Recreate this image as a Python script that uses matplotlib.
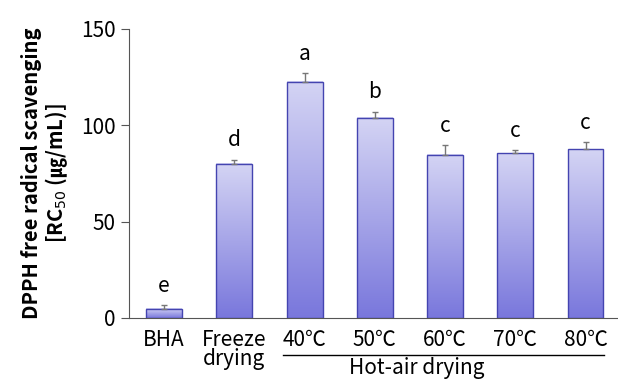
import matplotlib.pyplot as plt
import numpy as np
from matplotlib.colors import LinearSegmentedColormap
import matplotlib.transforms as mtransforms

plt.rcParams['font.family'] = ['Noto Sans CJK KR', 'DejaVu Sans']

categories = ['BHA', 'Freeze\ndrying', '40℃', '50℃', '60℃', '70℃', '80℃']
values = [4.7, 80.0, 122.5, 103.8, 84.6, 85.6, 87.7]
errors = [2.0, 2.2, 4.5, 3.2, 5.0, 1.5, 3.6]
letters = ['e', 'd', 'a', 'b', 'c', 'c', 'c']

fig = plt.figure(figsize=(6.18, 3.81), dpi=100)
ax = fig.add_axes([0.2087, 0.1654, 0.79, 0.7586])

cmap = LinearSegmentedColormap.from_list('grad', ['#7977dc', '#d4d4f4'])
grad = np.linspace(0, 1, 256).reshape(-1, 1)
width = 0.51
x = np.arange(len(categories))
for xi, v in zip(x, values):
    ax.imshow(grad, cmap=cmap, origin='lower', aspect='auto',
              extent=[xi - width / 2, xi + width / 2, 0, v], zorder=2)
ax.bar(x, values, width=width, facecolor='none', edgecolor='#4444b0',
       linewidth=1.0, zorder=3)
ax.errorbar(x, values, yerr=[np.zeros(len(errors)), errors], fmt='none',
            ecolor='#777777', elinewidth=1.0, capsize=2.5, capthick=1.0, zorder=4)

for xi, v, e, l in zip(x, values, errors, letters):
    ax.annotate(l, (xi, v + e), xytext=(0, 6), textcoords='offset points',
                ha='center', va='bottom', fontsize=15)

ax.set_xlim(-0.5, 6.45)
ax.set_ylim(0, 150)
ax.set_yticks([0, 50, 100, 150])
ax.set_xticks(x)
ax.set_xticklabels(categories, fontsize=15, linespacing=0.8)
ax.tick_params(axis='x', length=0, pad=8)
ax.tick_params(axis='y', labelsize=15, length=6, direction='out', color='#555555')
for s in ['top', 'right']:
    ax.spines[s].set_visible(False)
ax.spines['left'].set_color('#555555')
ax.spines['bottom'].set_color('#555555')

ax.set_ylabel('DPPH free radical scavenging\n[RC$_{50}$ (㎍/mL)]', fontsize=14.5,
              fontweight='bold', labelpad=8, linespacing=1.05)

trans = mtransforms.blended_transform_factory(ax.transData, ax.transAxes)
ax.plot([1.69, 6.26], [-0.128, -0.128], color='black', lw=1.0,
        transform=trans, clip_on=False)
ax.text(3.6, -0.135, 'Hot-air drying', transform=trans, ha='center', va='top',
        fontsize=15)

fig.savefig('out.png', dpi=100)
